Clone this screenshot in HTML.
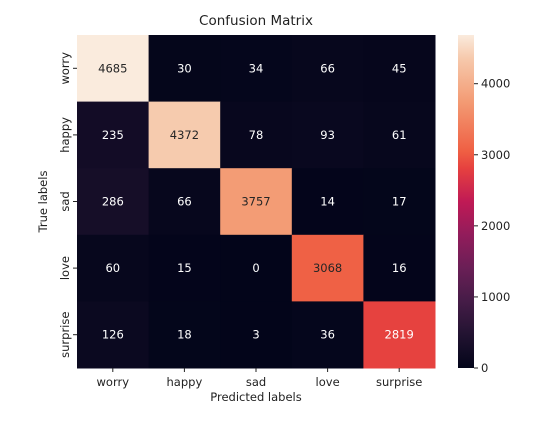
<!DOCTYPE html>
<html><head><meta charset="utf-8"><style>
body{margin:0;background:#fff;font-family:"Liberation Sans","DejaVu Sans",sans-serif;}
svg text{font-family:"DejaVu Sans","Liberation Sans",sans-serif;}
</style></head><body>
<svg id="c" width="544" height="435" xmlns="http://www.w3.org/2000/svg">
<defs><linearGradient id="cbg" x1="0" y1="1" x2="0" y2="0"></linearGradient></defs>
<text x="256" y="25" font-size="13.5" text-anchor="middle" fill="#222">Confusion Matrix</text>
<g id="cells"></g>
<g id="axes"></g>
</svg>
<script>
const categories=["worry","happy","sad","love","surprise"];
const values=[[4685,30,34,66,45],[235,4372,78,93,61],[286,66,3757,14,17],[60,15,0,3068,16],[126,18,3,36,2819]];
const cbTicks=[0,1000,2000,3000,4000];
const NS="http://www.w3.org/2000/svg";
const L=77,T=35,R=435,B=368,cw=(R-L)/5,ch=(B-T)/5;
const vmax=4685;
const stopPos=[0,0.1,0.2,0.3,0.4,0.5,0.6,0.65,0.8,0.93,1];
const stops=["#03051a","#221331","#451c47","#6a1f56","#921c5b","#c01a55","#e6413f","#ef5f43","#f39b74","#f6c9ac","#faebdd"];
function hex(h){return [1,3,5].map(i=>parseInt(h.substr(i,2),16));}
function cmap(t){t=Math.max(0,Math.min(1,t));let i=0;while(i<stopPos.length-2&&t>stopPos[i+1])i++;const f=(t-stopPos[i])/(stopPos[i+1]-stopPos[i]);const a=hex(stops[i]),b=hex(stops[i+1]);return a.map((v,k)=>Math.round(v+(b[k]-v)*f));}
function xs(j){return L+j*cw;}
function ys(i){return T+i*ch;}
function cy(v){return B-(v/vmax)*(B-T);}
function mk(tag,at,parent){const e=document.createElementNS(NS,tag);for(const k in at)e.setAttribute(k,at[k]);parent.appendChild(e);return e;}
const cells=document.getElementById('cells'),axes=document.getElementById('axes');
values.forEach((row,i)=>row.forEach((v,j)=>{
const c=cmap(v/vmax);
const r=mk('rect',{x:xs(j),y:ys(i),width:cw+0.5,height:ch+0.5,fill:`rgb(${c})`},cells);


const lum=(0.2126*c[0]+0.7152*c[1]+0.0722*c[2])/255;
const t=mk('text',{x:xs(j)+cw/2,y:ys(i)+ch/2+4,'font-size':11.5,'text-anchor':'middle',fill:lum>0.45?'#262626':'#fff'},cells);
t.textContent=v;


}));
categories.forEach((n,k)=>{
mk('line',{x1:xs(k)+cw/2,x2:xs(k)+cw/2,y1:B,y2:B+4,stroke:'#222'},axes);
const tx=mk('text',{x:xs(k)+cw/2,y:B+18,'font-size':11.5,'text-anchor':'middle',fill:'#222'},axes);
tx.textContent=n;


const yy=ys(k)+ch/2;
mk('line',{x1:L-4,x2:L,y1:yy,y2:yy,stroke:'#222'},axes);
const ty=mk('text',{x:0,y:0,'font-size':11.5,'text-anchor':'middle',fill:'#222',transform:`translate(69,${yy}) rotate(-90)`},axes);
ty.textContent=n;


});
const xt=mk('text',{x:(L+R)/2,y:B+33,'font-size':11.5,'text-anchor':'middle',fill:'#222'},axes);
xt.textContent='Predicted labels';


const yt=mk('text',{x:0,y:0,'font-size':11.5,'text-anchor':'middle',fill:'#222',transform:`translate(47,${(T+B)/2}) rotate(-90)`},axes);
yt.textContent='True labels';


const g=document.getElementById('cbg');
stops.forEach((s,i)=>mk('stop',{offset:stopPos[i],'stop-color':s},g));
const cb=mk('rect',{x:458,y:T,width:16,height:B-T,fill:'url(#cbg)'},axes);


cbTicks.forEach(v=>{
mk('line',{x1:474,x2:478,y1:cy(v),y2:cy(v),stroke:'#222'},axes);
const t=mk('text',{x:481,y:cy(v)+4,'font-size':11.5,fill:'#222'},axes);
t.textContent=v;


});
</script>
</body></html>
